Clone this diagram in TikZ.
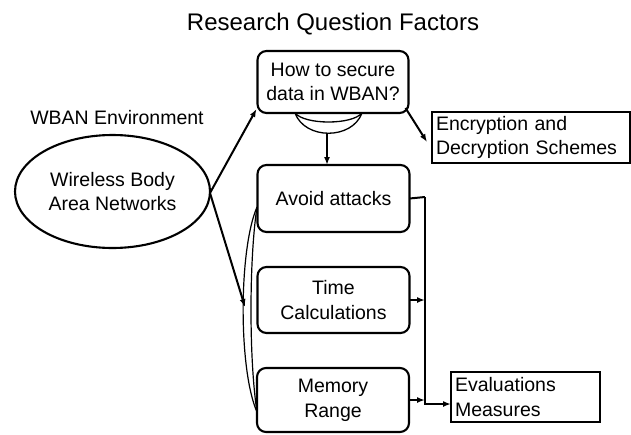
\documentclass[tikz,border=0pt]{standalone}
\usepackage{fontspec}
\setmainfont{Liberation Sans}
\usetikzlibrary{arrows.meta,shapes.geometric,calc}
\begin{document}
\begin{tikzpicture}[x=1pt,y=-1pt,
  every node/.style={inner sep=0pt,outer sep=0pt,font=\fontsize{19.5}{24.5}\selectfont},
  rbox/.style={draw,line width=2.1pt,rounded corners=9pt,align=center},
  sbox/.style={draw,line width=1.5pt,align=left,inner sep=3pt,anchor=west},
  conn/.style={line width=2pt,-{Latex[length=8pt,width=6pt]}},
  plain/.style={line width=2pt}]
\useasboundingbox (0,0) rectangle (631,434);
\node (title) at (333,24) {\fontsize{24}{28}\selectfont Research Question Factors};
\node (env) at (117,118) {WBAN Environment};
\node[draw,ellipse,line width=2.1pt,minimum width=195pt,minimum height=113pt,align=center] (ell) at (112.5,191.5) {Wireless Body\\Area Networks};
\node[rbox,minimum width=151pt,minimum height=62pt] (top) at (333,82) {How to secure\\data in WBAN?};
\node[rbox,minimum width=152pt,minimum height=67pt] (avoid) at (333.5,198.5) {Avoid attacks};
\node[rbox,minimum width=152pt,minimum height=66pt] (time) at (333.5,300) {Time\\Calculations};
\node[rbox,minimum width=152pt,minimum height=64pt] (mem) at (333,400) {\raisebox{-4.5pt}{\begin{tabular}{@{}c@{}}Memory\\Range\end{tabular}}};
\node[sbox,minimum width=198pt,minimum height=51pt,text width=190pt] (enc) at (432,137.5) {Encryption and\\Decryption Schemes};
\node[sbox,minimum width=149pt,minimum height=50pt,text width=141pt] (eval) at (451,397) {Evaluations\\Measures};
% bowl under top box
\coordinate (bl) at (295,113);
\coordinate (br) at (362,113);
\coordinate (bowl) at (327,133);
\draw[line width=1.3pt] (bl) .. controls (305,140) and (352,140) .. (br);
\draw[line width=1.3pt] (bl) .. controls (305,125) and (352,125) .. (br);
\draw[conn] (bowl) -- (bowl |- avoid.north);
% lens on left
\coordinate (lt) at (257,207);
\coordinate (lb) at (257,412);
\coordinate (lensmid) at (245,307);
\draw[line width=1.2pt] (lt) .. controls (238.5,250) and (238.5,370) .. (lb);
\draw[line width=1.2pt] (lt) .. controls (249,260) and (249,360) .. (lb);
% ellipse connectors
\coordinate (ee) at (210,193);
\draw[conn] (ee) -- ([xshift=-1pt,yshift=4pt]top.south west);
\draw[conn] (ee) -- (lensmid);
% encryption
\draw[conn] ([xshift=-3pt,yshift=5pt]top.south east) -- ([xshift=-5pt,yshift=-4.5pt]enc.west);
% right side bus
\coordinate (bus) at (425,197);
\coordinate (busend) at (425,404);
\draw[plain] (avoid.east) -- (bus);
\draw[conn] (bus) -- (busend) -- (busend -| eval.west);
\draw[conn] (time.east) -- (time.east -| bus);
\draw[conn] (mem.east) -- (mem.east -| bus);
\end{tikzpicture}
\end{document}
